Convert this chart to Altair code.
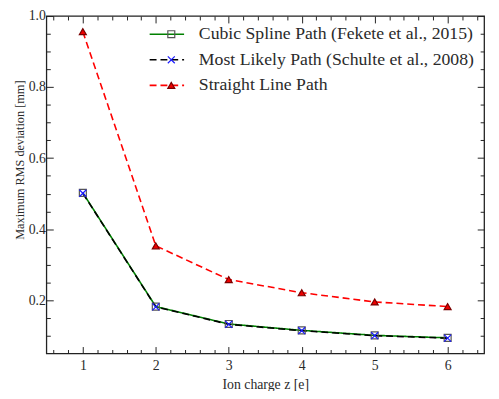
import altair as alt
import pandas as pd

# ---- data ----
z = [1, 2, 3, 4, 5, 6]
csp = [0.502, 0.182, 0.133, 0.115, 0.101, 0.094]
mlp = [0.501, 0.181, 0.132, 0.114, 0.100, 0.093]
slp = [0.956, 0.353, 0.258, 0.221, 0.195, 0.182]
series_names = [
    "Cubic Spline Path (Fekete et al., 2015)",
    "Most Likely Path (Schulte et al., 2008)",
    "Straight Line Path",
]
marker_names = [n + " " for n in series_names]
x_major = [1, 2, 3, 4, 5, 6]
x_minor = [0.6, 0.8, 1.2, 1.4, 1.6, 1.8, 2.2, 2.4, 2.6, 2.8, 3.2, 3.4, 3.6, 3.8,
           4.2, 4.4, 4.6, 4.8, 5.2, 5.4, 5.6, 5.8, 6.2, 6.4]
y_major = [0.2, 0.4, 0.6, 0.8, 1.0]
y_minor = [0.1, 0.15, 0.25, 0.3, 0.35, 0.45, 0.5, 0.55, 0.65, 0.7, 0.75, 0.85, 0.9, 0.95]

rows = []
for name, mname, vals in zip(series_names, marker_names, [csp, mlp, slp]):
    for zi, v in zip(z, vals):
        rows.append({"series": name, "marker": mname, "z": zi, "v": v})
df = pd.DataFrame(rows)

W, H = 445, 343
FONT = "Liberation Serif"
TXT = "#2a2a2a"
FRAME = "#222222"

xscale = alt.Scale(domain=[0.5, 6.5], nice=False, zero=False)
yscale = alt.Scale(domain=[0.05, 1.0], nice=False, zero=False)


def tick_axis(orient, offset, values, size):
    return alt.Axis(orient=orient, offset=offset, values=values, tickSize=size,
                    labels=False, domain=False, grid=False, title=None,
                    tickColor=FRAME, tickWidth=1)


LEG = dict(title=None, orient="none", legendX=104, legendY=10.5, padding=0,
           clipHeight=16, rowPadding=8, labelFont=FONT, labelFontSize=18,
           labelLimit=500)

base = alt.Chart(df)

lines = base.mark_line(strokeWidth=1.6).encode(
    x=alt.X("z:Q", scale=xscale,
            axis=alt.Axis(orient="bottom", values=x_major, ticks=False, tickSize=0,
                          domain=False, grid=False, title="Ion charge z [e]",
                          labelPadding=5, titlePadding=6)),
    y=alt.Y("v:Q", scale=yscale,
            axis=alt.Axis(orient="left", values=y_major, ticks=False, tickSize=0,
                          domain=False, grid=False, format=".1f",
                          title="Maximum RMS deviation [mm]", titleFontSize=12.5,
                          titleY=146, labelPadding=1, titlePadding=2)),
    color=alt.Color("series:N",
                    scale=alt.Scale(domain=series_names,
                                    range=["#008000", "#000000", "#ff0000"]),
                    legend=alt.Legend(symbolType="stroke", symbolSize=1225,
                                      symbolStrokeWidth=1.6, labelOffset=14,
                                      labelColor=TXT, **LEG)),
    strokeDash=alt.StrokeDash("series:N",
                              scale=alt.Scale(domain=series_names,
                                              range=[[1, 0], [7, 4], [7, 4]]),
                              legend=alt.Legend(symbolType="stroke", symbolSize=1225,
                                                symbolStrokeWidth=1.6, labelOffset=14,
                                                labelColor=TXT, **LEG)),
)

MLEG = dict(symbolSize=50, symbolOffset=14, labelExpr="''", symbolStrokeWidth=1.2, **LEG)

points = base.mark_point(filled=True, size=50, strokeWidth=1.2, opacity=1).encode(
    x=alt.X("z:Q", scale=xscale, axis=tick_axis("top", -H, x_major, 7)),
    y=alt.Y("v:Q", scale=yscale, axis=tick_axis("right", -W, y_major, 7)),
    shape=alt.Shape("marker:N",
                    scale=alt.Scale(domain=marker_names,
                                    range=["square", "M-1,-1L1,1M-1,1L1,-1", "triangle-up"]),
                    legend=alt.Legend(**MLEG)),
    fill=alt.Fill("marker:N",
                  scale=alt.Scale(domain=marker_names,
                                  range=["rgba(0,0,0,0)", "rgba(0,0,0,0)", "#ee0000"]),
                  legend=alt.Legend(**MLEG)),
    stroke=alt.Stroke("marker:N",
                      scale=alt.Scale(domain=marker_names,
                                      range=["#555555", "#1a1aff", "#7a0000"]),
                      legend=alt.Legend(**MLEG)),
)


def dummy(xa, ya):
    return base.mark_point(opacity=0).encode(
        x=alt.X("z:Q", scale=xscale, axis=xa),
        y=alt.Y("v:Q", scale=yscale, axis=ya),
    )


d1 = dummy(tick_axis("top", -H, x_minor, 4), tick_axis("right", -W, y_minor, 4))
d2 = dummy(tick_axis("bottom", -H, x_major, 7), tick_axis("left", -W, y_major, 7))
d3 = dummy(tick_axis("bottom", -H, x_minor, 4), tick_axis("left", -W, y_minor, 4))

chart = alt.layer(lines, points, d1, d2, d3).resolve_axis(
    x="independent", y="independent"
).properties(
    width=W, height=H,
    autosize=alt.AutoSizeParams(type="none"),
    padding={"left": 39, "top": 5, "right": 7, "bottom": 35},
    background="white",
).configure_view(
    stroke=FRAME, strokeWidth=1.3
).configure_axis(
    labelFont=FONT, labelFontSize=14, labelColor=TXT,
    titleFont=FONT, titleFontSize=14, titleFontWeight="normal", titleColor=TXT,
)

chart.save("out.html", embed_options={"renderer": "svg", "actions": False})
